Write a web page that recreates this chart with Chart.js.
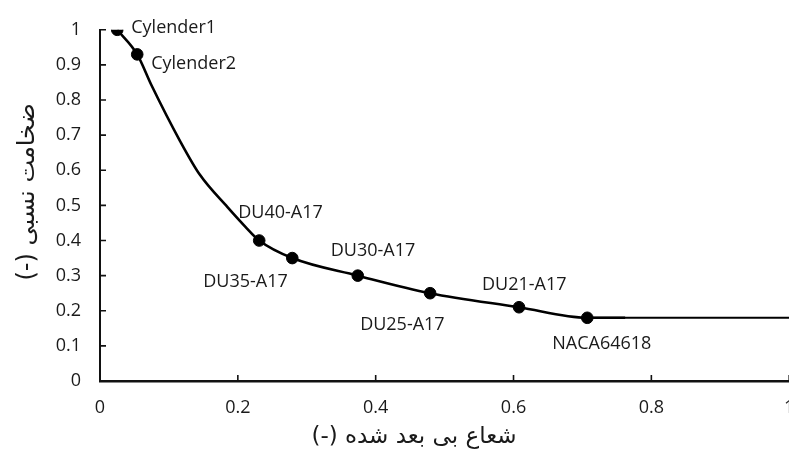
<!DOCTYPE html>
<html>
<head>
<meta charset="utf-8">
<script src="https://cdn.jsdelivr.net/npm/chart.js@4.4.1/dist/chart.umd.min.js"></script>
<style>
  html, body { margin: 0; padding: 0; background: #fff; overflow: hidden; }
  #wrap { width: 789px; height: 462px; overflow: hidden; }
  #chart { display: block; }
</style>
</head>
<body>
<!-- canvas a few px wider than the window so the last x label gets cut like the original -->
<div id="wrap"><canvas id="chart" width="796" height="462"></canvas></div>
<script>
// airfoil stations: dimensionless radius vs relative thickness
const airfoilNames = ['Cylender1', 'Cylender2', 'DU40-A17', 'DU35-A17', 'DU30-A17', 'DU25-A17', 'DU21-A17', 'NACA64618'];
const airfoilR = [0.025, 0.054, 0.231, 0.279, 0.374, 0.479, 0.608, 0.707];
const airfoilT = [1.0, 0.93, 0.40, 0.35, 0.30, 0.25, 0.21, 0.18];

// smooth thickness curve
const curveR = [0.025, 0.054, 0.074, 0.116, 0.145, 0.185, 0.211, 0.231, 0.279, 0.374, 0.479, 0.608, 0.707, 0.762];
const curveT = [1.0, 0.93, 0.845, 0.684, 0.587, 0.495, 0.439, 0.40, 0.35, 0.30, 0.25, 0.21, 0.18, 0.18];

// constant thickness out to the tip
const tipR = [0.707, 1.0];
const tipT = [0.18, 0.18];

const xTitle = 'شعاع بی بعد شده (-)';
const yTitle = 'ضخامت نسبی (-)';

// label offsets from each marker (px), left aligned
const labelOffsets = [[14, -2], [14, 9], [-21, -28], [-89, 24], [-27, -25], [-70, 32], [-37, -22], [-35, 26]];

const textFont = '"Open Sans", "DejaVu Sans", sans-serif';
const faFont = '"DejaVu Sans", sans-serif';

function toPoints(xs, ys) {
    return xs.map((x, i) => ({ x: x, y: ys[i] }));
}

// tick labels without trailing zeros (1 instead of 1.0)
function shortNum(v) {
    return String(Number(v.toFixed(1)));
}

// Chart.js only draws outward ticks, so draw the inward ones here
const inwardTicks = {
    id: 'inwardTicks',
    afterDraw(chart) {
        const { ctx, scales: { x, y } } = chart;
        ctx.save();
        ctx.strokeStyle = '#111';
        ctx.lineWidth = 1.6;
        ctx.beginPath();
        x.ticks.forEach((t, i) => {
            if (i === 0) return;
            const px = x.getPixelForTick(i);
            ctx.moveTo(px, x.top);
            ctx.lineTo(px, x.top - 6);
        });
        y.ticks.forEach((t, i) => {
            if (i === 0) return;
            const py = y.getPixelForTick(i);
            ctx.moveTo(y.right, py);
            ctx.lineTo(y.right + 6, py);
        });
        ctx.stroke();
        ctx.restore();
    }
};

// persian axis titles, right-to-left, placed a bit off-centre like the original
const axisTitles = {
    id: 'axisTitles',
    afterDraw(chart) {
        const { ctx, scales: { x, y } } = chart;
        ctx.save();
        ctx.direction = 'rtl';
        ctx.fillStyle = '#1a1a1a';
        ctx.textAlign = 'center';
        ctx.textBaseline = 'middle';
        ctx.font = '23px ' + faFont;
        ctx.fillText(xTitle, x.left + 314, 437);
        ctx.translate(28, y.top + 162);
        ctx.rotate(-Math.PI / 2);
        ctx.font = '24px ' + faFont;
        ctx.fillText(yTitle, 0, 0);
        ctx.restore();
    }
};

// airfoil names next to the markers
const pointLabels = {
    id: 'pointLabels',
    afterDatasetsDraw(chart) {
        const ctx = chart.ctx;
        const meta = chart.getDatasetMeta(2);
        ctx.save();
        ctx.font = '18px ' + textFont;
        ctx.fillStyle = '#1a1a1a';
        ctx.textAlign = 'left';
        ctx.textBaseline = 'middle';
        meta.data.forEach((pt, i) => {
            const off = labelOffsets[i];
            ctx.fillText(airfoilNames[i], pt.x + off[0], pt.y + off[1]);
        });
        ctx.restore();
    }
};

new Chart(document.getElementById('chart'), {
    type: 'scatter',
    data: {
        datasets: [
            {
                data: toPoints(tipR, tipT),
                showLine: true,
                borderColor: '#000',
                borderWidth: 2,
                pointRadius: 0
            },
            {
                data: toPoints(curveR, curveT),
                showLine: true,
                borderColor: '#000',
                borderWidth: 2.6,
                cubicInterpolationMode: 'monotone',
                pointRadius: 0
            },
            {
                data: toPoints(airfoilR, airfoilT),
                showLine: false,
                backgroundColor: '#000',
                borderColor: '#000',
                pointRadius: 5.8
            }
        ]
    },
    options: {
        responsive: false,
        animation: false,
        layout: { padding: { top: 27, left: 0, right: 0, bottom: 0 } },
        plugins: {
            legend: { display: false },
            tooltip: { enabled: false }
        },
        scales: {
            x: {
                type: 'linear',
                min: 0,
                max: 1,
                ticks: {
                    stepSize: 0.2, color: '#1a1a1a', padding: 16,
                    font: { family: textFont, size: 18 },
                    callback: v => shortNum(v)
                },
                grid: { display: false, drawTicks: false },
                border: { display: true, color: '#111', width: 2.5 },
                afterFit(scale) {
                    scale.height = 81;
                    scale.paddingRight = 0;
                }
            },
            y: {
                type: 'linear',
                min: 0,
                max: 1,
                ticks: {
                    stepSize: 0.1, color: '#1a1a1a', padding: 19,
                    font: { family: textFont, size: 18 },
                    callback: v => shortNum(v)
                },
                grid: { display: false, drawTicks: false },
                border: { display: true, color: '#111', width: 2 },
                afterFit(scale) {
                    scale.width = 100;
                }
            }
        }
    },
    plugins: [inwardTicks, axisTitles, pointLabels]
});
</script>
</body>
</html>
